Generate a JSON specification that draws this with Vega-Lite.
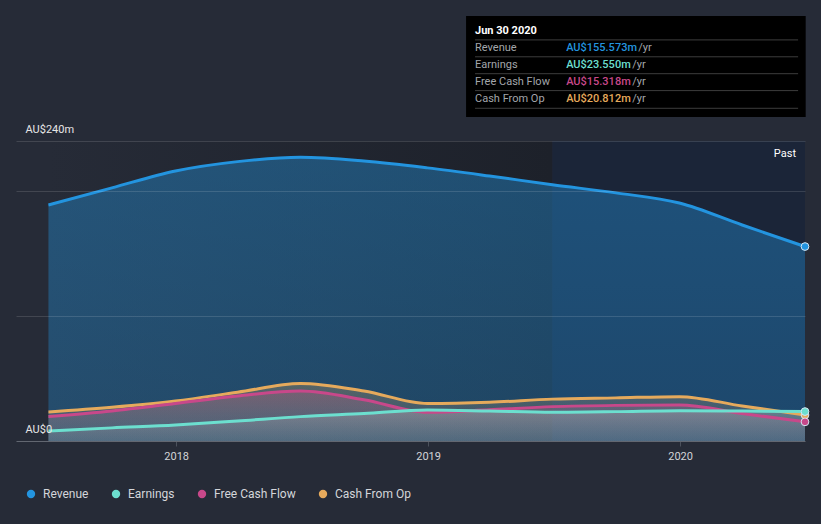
{
  "$schema": "https://vega.github.io/schema/vega-lite/v6.json",
  "width": 789,
  "height": 425,
  "autosize": {"type": "none"},
  "padding": {"left": 16, "top": 16, "right": 16, "bottom": 83},
  "background": "#262b37",
  "config": {"view": {"stroke": null}, "font": "Roboto"},
  "datasets": {
    "series": [
      {"series": "Revenue", "date": "2017-06-30", "value": 188.8},
      {"series": "Revenue", "date": "2017-09-30", "value": 202.5},
      {"series": "Revenue", "date": "2017-12-31", "value": 216.0},
      {"series": "Revenue", "date": "2018-03-31", "value": 223.5},
      {"series": "Revenue", "date": "2018-06-30", "value": 227.0},
      {"series": "Revenue", "date": "2018-09-30", "value": 224.0},
      {"series": "Revenue", "date": "2018-12-31", "value": 218.5},
      {"series": "Revenue", "date": "2019-03-31", "value": 212.0},
      {"series": "Revenue", "date": "2019-06-30", "value": 205.0},
      {"series": "Revenue", "date": "2019-09-30", "value": 198.5},
      {"series": "Revenue", "date": "2019-12-31", "value": 190.4},
      {"series": "Revenue", "date": "2020-03-31", "value": 172.8},
      {"series": "Revenue", "date": "2020-06-30", "value": 155.573},
      {"series": "Cash From Op", "date": "2017-06-30", "value": 23.2},
      {"series": "Cash From Op", "date": "2017-09-30", "value": 27.0},
      {"series": "Cash From Op", "date": "2017-12-31", "value": 32.0},
      {"series": "Cash From Op", "date": "2018-03-31", "value": 39.0},
      {"series": "Cash From Op", "date": "2018-06-30", "value": 46.0},
      {"series": "Cash From Op", "date": "2018-09-30", "value": 40.0},
      {"series": "Cash From Op", "date": "2018-12-31", "value": 30.0},
      {"series": "Cash From Op", "date": "2019-03-31", "value": 31.0},
      {"series": "Cash From Op", "date": "2019-06-30", "value": 33.5},
      {"series": "Cash From Op", "date": "2019-09-30", "value": 34.5},
      {"series": "Cash From Op", "date": "2019-12-31", "value": 35.5},
      {"series": "Cash From Op", "date": "2020-03-31", "value": 28.0},
      {"series": "Cash From Op", "date": "2020-06-30", "value": 20.812},
      {"series": "Free Cash Flow", "date": "2017-06-30", "value": 19.5},
      {"series": "Free Cash Flow", "date": "2017-09-30", "value": 24.0},
      {"series": "Free Cash Flow", "date": "2017-12-31", "value": 30.0},
      {"series": "Free Cash Flow", "date": "2018-03-31", "value": 36.0},
      {"series": "Free Cash Flow", "date": "2018-06-30", "value": 40.0},
      {"series": "Free Cash Flow", "date": "2018-09-30", "value": 33.0},
      {"series": "Free Cash Flow", "date": "2018-12-31", "value": 23.0},
      {"series": "Free Cash Flow", "date": "2019-03-31", "value": 25.0},
      {"series": "Free Cash Flow", "date": "2019-06-30", "value": 27.5},
      {"series": "Free Cash Flow", "date": "2019-09-30", "value": 28.5},
      {"series": "Free Cash Flow", "date": "2019-12-31", "value": 28.8},
      {"series": "Free Cash Flow", "date": "2020-03-31", "value": 22.0},
      {"series": "Free Cash Flow", "date": "2020-06-30", "value": 15.318},
      {"series": "Earnings", "date": "2017-06-30", "value": 8.0},
      {"series": "Earnings", "date": "2017-09-30", "value": 10.5},
      {"series": "Earnings", "date": "2017-12-31", "value": 12.8},
      {"series": "Earnings", "date": "2018-03-31", "value": 16.0},
      {"series": "Earnings", "date": "2018-06-30", "value": 19.5},
      {"series": "Earnings", "date": "2018-09-30", "value": 22.0},
      {"series": "Earnings", "date": "2018-12-31", "value": 24.8},
      {"series": "Earnings", "date": "2019-03-31", "value": 24.0},
      {"series": "Earnings", "date": "2019-06-30", "value": 23.0},
      {"series": "Earnings", "date": "2019-09-30", "value": 23.5},
      {"series": "Earnings", "date": "2019-12-31", "value": 24.3},
      {"series": "Earnings", "date": "2020-03-31", "value": 24.0},
      {"series": "Earnings", "date": "2020-06-30", "value": 23.55}
    ],
    "tip": [
      {"row": 1, "label": "Revenue", "value": "AU$155.573m", "series": "Revenue"},
      {"row": 2, "label": "Earnings", "value": "AU$23.550m", "series": "Earnings"},
      {"row": 3, "label": "Free Cash Flow", "value": "AU$15.318m", "series": "Free Cash Flow"},
      {"row": 4, "label": "Cash From Op", "value": "AU$20.812m", "series": "Cash From Op"}
    ]
  },
  "layer": [
    {
      "layer": [
        {
          "data": {"values": [{}]},
          "mark": {"type": "rect", "fill": {"gradient": "linear", "x1": 0, "y1": 0, "x2": 1, "y2": 0, "stops": [{"offset": 0, "color": "#262b37"}, {"offset": 1, "color": "#1d212a"}]}},
          "encoding": {
            "x": {"datum": {"year": 2017, "month": 6, "date": 30}, "type": "temporal"},
            "x2": {"datum": {"year": 2019, "month": 6, "date": 30}},
            "y": {"datum": 240, "type": "quantitative"},
            "y2": {"datum": 0}
          }
        },
        {
          "data": {"values": [{}]},
          "mark": {"type": "rect", "fill": "#1b2538"},
          "encoding": {
            "x": {"datum": {"year": 2019, "month": 6, "date": 30}, "type": "temporal"},
            "x2": {"datum": {"year": 2020, "month": 6, "date": 30}},
            "y": {"datum": 240, "type": "quantitative"},
            "y2": {"datum": 0}
          }
        },
        {
          "data": {"name": "series"},
          "transform": [{"filter": "datum.series === 'Revenue'"}],
          "mark": {"type": "area", "interpolate": "monotone", "fill": {"gradient": "linear", "x1": 0, "y1": 0, "x2": 0, "y2": 1, "stops": [{"offset": 0, "color": "rgba(35,148,223,0.4)"}, {"offset": 1, "color": "rgba(35,148,223,0.31)"}]}},
          "encoding": {
            "x": {"field": "date", "type": "temporal"},
            "y": {"field": "value", "type": "quantitative", "stack": null}
          }
        },
        {
          "data": {"name": "series"},
          "transform": [{"filter": "datum.series === 'Cash From Op'"}],
          "mark": {"type": "area", "interpolate": "monotone", "fill": {"gradient": "linear", "x1": 0, "y1": 0, "x2": 0, "y2": 1, "stops": [{"offset": 0, "color": "rgba(229,169,91,0.28)"}, {"offset": 1, "color": "rgba(160,160,160,0.15)"}]}},
          "encoding": {
            "x": {"field": "date", "type": "temporal"},
            "y": {"field": "value", "type": "quantitative", "stack": null}
          }
        },
        {
          "data": {"name": "series"},
          "transform": [{"filter": "datum.series === 'Free Cash Flow'"}],
          "mark": {"type": "area", "interpolate": "monotone", "fill": {"gradient": "linear", "x1": 0, "y1": 0, "x2": 0, "y2": 1, "stops": [{"offset": 0, "color": "rgba(210,90,140,0.28)"}, {"offset": 1, "color": "rgba(160,160,160,0.15)"}]}},
          "encoding": {
            "x": {"field": "date", "type": "temporal"},
            "y": {"field": "value", "type": "quantitative", "stack": null}
          }
        },
        {
          "data": {"name": "series"},
          "transform": [{"filter": "datum.series === 'Earnings'"}],
          "mark": {"type": "area", "interpolate": "monotone", "fill": {"gradient": "linear", "x1": 0, "y1": 0, "x2": 0, "y2": 1, "stops": [{"offset": 0, "color": "rgba(190,200,200,0.3)"}, {"offset": 1, "color": "rgba(160,165,175,0.15)"}]}},
          "encoding": {
            "x": {"field": "date", "type": "temporal"},
            "y": {"field": "value", "type": "quantitative", "stack": null}
          }
        },
        {
          "data": {"name": "series"},
          "mark": {"type": "line", "interpolate": "monotone", "strokeWidth": 3},
          "encoding": {
            "x": {
              "field": "date", "type": "temporal",
              "scale": {"domain": [{"year": 2017, "month": 5, "date": 14}, {"year": 2020, "month": 6, "date": 30}], "nice": false},
              "axis": {"title": null, "values": [{"year": 2018, "month": 1, "date": 1}, {"year": 2019, "month": 1, "date": 1}, {"year": 2020, "month": 1, "date": 1}], "format": "%Y", "grid": false, "domain": true, "domainColor": "#4b515c", "tickColor": "#4b515c", "tickSize": 5, "labelColor": "#d2d4d8", "labelFontSize": 11, "labelPadding": 4}
            },
            "y": {
              "field": "value", "type": "quantitative", "stack": null,
              "scale": {"domain": [0, 340], "nice": false},
              "axis": {"title": null, "zindex": 1, "values": [0, 100, 200, 240], "grid": true, "gridColor": "#ffffff", "gridOpacity": 0.13, "domain": false, "ticks": false, "labelAlign": "left", "labelBaseline": "bottom", "labelPadding": -9, "labelOffset": -7, "labelColor": "#e6e6e6", "labelFontSize": 11, "labelExpr": "datum.value == 240 ? 'AU$240m' : (datum.value == 0 ? 'AU$0' : '')"}
            },
            "color": {
              "field": "series", "type": "nominal",
              "scale": {"domain": ["Revenue", "Earnings", "Free Cash Flow", "Cash From Op"], "range": ["#2394df", "#6cdfcf", "#c8488a", "#e6aa5c"]}
            }
          }
        },
        {
          "data": {"name": "series"},
          "transform": [{"filter": "utcyear(datum.date) == 2020 && utcmonth(datum.date) == 5"}],
          "mark": {"type": "point", "filled": true, "size": 60, "stroke": "#d6e6f2", "strokeWidth": 1, "opacity": 1},
          "encoding": {
            "x": {"field": "date", "type": "temporal"},
            "y": {"field": "value", "type": "quantitative", "stack": null},
            "color": {
              "field": "series", "type": "nominal",
              "legend": {"title": null, "orient": "none", "legendX": 9, "legendY": 472, "direction": "horizontal", "columns": 4, "columnPadding": 21, "symbolType": "circle", "symbolSize": 70, "symbolStrokeWidth": 0, "symbolOpacity": 1, "labelOffset": 6, "labelColor": "#d4d6da", "labelFontSize": 12}
            }
          }
        },
        {
          "data": {"values": [{"txt": "Past"}]},
          "mark": {"type": "text", "align": "right", "baseline": "top", "dx": -9, "dy": 7, "color": "#ffffff", "fontSize": 11},
          "encoding": {
            "x": {"datum": {"year": 2020, "month": 6, "date": 30}, "type": "temporal"},
            "y": {"datum": 240, "type": "quantitative"},
            "text": {"field": "txt"}
          }
        }
      ]
    },
    {
      "data": {"name": "tip"},
      "layer": [
        {
          "data": {"values": [{}]},
          "mark": {"type": "rect", "fill": "#000000"},
          "encoding": {
            "x": {"datum": {"year": 2019, "month": 2, "date": 25}, "type": "temporal"},
            "x2": {"datum": {"year": 2020, "month": 7, "date": 1}},
            "y": {"datum": -0.911, "type": "quantitative", "scale": {"domain": [-0.911, 24.237], "reverse": true, "nice": false, "zero": false}, "axis": null},
            "y2": {"datum": 5.065}
          }
        },
        {
          "data": {"values": [{"title": "Jun 30 2020"}]},
          "mark": {"type": "text", "align": "left", "baseline": "middle", "fontWeight": "bold", "fontSize": 11, "color": "#ffffff"},
          "encoding": {
            "x": {"datum": {"year": 2019, "month": 3, "date": 10}, "type": "temporal"},
            "y": {"datum": 0, "type": "quantitative", "axis": null},
            "text": {"field": "title"}
          }
        },
        {
          "mark": {"type": "rule", "stroke": "#3d3d3d", "strokeWidth": 1, "yOffset": -8.4},
          "encoding": {
            "x": {"datum": {"year": 2019, "month": 3, "date": 10}, "type": "temporal"},
            "x2": {"datum": {"year": 2020, "month": 6, "date": 20}},
            "y": {"field": "row", "type": "quantitative", "axis": null}
          }
        },
        {
          "transform": [{"filter": "datum.row == 4"}],
          "mark": {"type": "rule", "stroke": "#3d3d3d", "strokeWidth": 1, "yOffset": 9.3},
          "encoding": {
            "x": {"datum": {"year": 2019, "month": 3, "date": 10}, "type": "temporal"},
            "x2": {"datum": {"year": 2020, "month": 6, "date": 20}},
            "y": {"field": "row", "type": "quantitative", "axis": null}
          }
        },
        {
          "mark": {"type": "text", "align": "left", "baseline": "middle", "fontSize": 11, "color": "#a3a6ab"},
          "encoding": {
            "x": {"datum": {"year": 2019, "month": 3, "date": 10}, "type": "temporal"},
            "y": {"field": "row", "type": "quantitative", "axis": null},
            "text": {"field": "label"}
          }
        },
        {
          "mark": {"type": "text", "align": "left", "baseline": "middle", "fontSize": 11, "fontWeight": 500},
          "encoding": {
            "x": {"datum": {"year": 2019, "month": 7, "date": 20}, "type": "temporal"},
            "y": {"field": "row", "type": "quantitative", "axis": null},
            "text": {"field": "value"},
            "color": {"field": "series", "type": "nominal"}
          }
        },
        {
          "transform": [{"filter": "datum.row == 1"}],
          "mark": {"type": "text", "align": "left", "baseline": "middle", "fontSize": 11, "color": "#a3a6ab", "dx": 72, "text": "/yr"},
          "encoding": {
            "x": {"datum": {"year": 2019, "month": 7, "date": 20}, "type": "temporal"},
            "y": {"field": "row", "type": "quantitative", "axis": null}
          }
        },
        {
          "transform": [{"filter": "datum.row > 1"}],
          "mark": {"type": "text", "align": "left", "baseline": "middle", "fontSize": 11, "color": "#a3a6ab", "dx": 66, "text": "/yr"},
          "encoding": {
            "x": {"datum": {"year": 2019, "month": 7, "date": 20}, "type": "temporal"},
            "y": {"field": "row", "type": "quantitative", "axis": null}
          }
        }
      ]
    }
  ],
  "resolve": {"scale": {"y": "independent"}}
}
